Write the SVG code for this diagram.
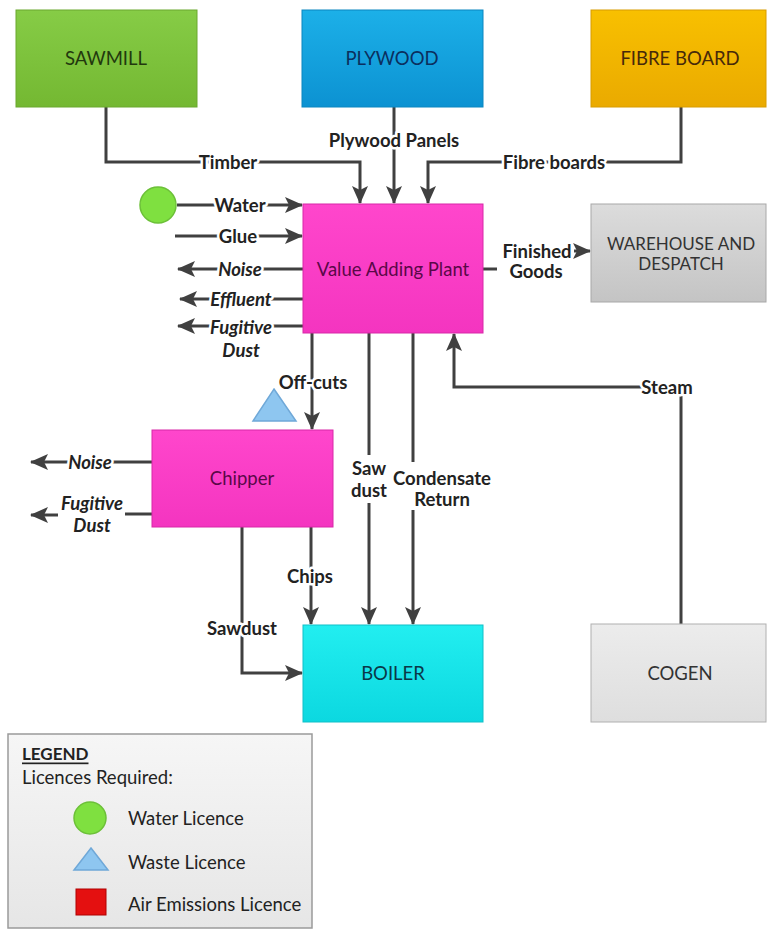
<svg xmlns="http://www.w3.org/2000/svg" width="767" height="930" viewBox="0 0 767 930">
<style>
text{font-family:Lato,"Open Sans","Liberation Sans",sans-serif;}
.node{font-size:18.5px;text-anchor:middle;dominant-baseline:central;}
.lbl{font-size:18.5px;font-weight:bold;fill:#222;text-anchor:middle;dominant-baseline:central;stroke:#fff;stroke-width:5px;paint-order:stroke;stroke-linejoin:round;}
.it{font-style:italic;}
.conn{fill:none;stroke:#404040;stroke-width:3;}
.arr{marker-end:url(#ah);}
.leg{font-size:18.5px;fill:#222;dominant-baseline:central;}
</style>
<defs>
<marker id="ah" markerUnits="userSpaceOnUse" markerWidth="18" markerHeight="18" viewBox="0 0 18 18" refX="17" refY="9" orient="auto">
<path d="M0,1 L18,9 L0,17 L4,9 Z" fill="#404040"/>
</marker>
<linearGradient id="gGreen" x1="0" y1="0" x2="0" y2="1"><stop offset="0" stop-color="#86cc46"/><stop offset="1" stop-color="#74b832"/></linearGradient>
<linearGradient id="gBlue" x1="0" y1="0" x2="0" y2="1"><stop offset="0" stop-color="#1cb0e8"/><stop offset="1" stop-color="#0c92d2"/></linearGradient>
<linearGradient id="gGold" x1="0" y1="0" x2="0" y2="1"><stop offset="0" stop-color="#f8c000"/><stop offset="1" stop-color="#eaaa00"/></linearGradient>
<linearGradient id="gPink" x1="0" y1="0" x2="0" y2="1"><stop offset="0" stop-color="#ff46cc"/><stop offset="1" stop-color="#f435c0"/></linearGradient>
<linearGradient id="gCyan" x1="0" y1="0" x2="0" y2="1"><stop offset="0" stop-color="#22eef0"/><stop offset="1" stop-color="#0cd8e0"/></linearGradient>
<linearGradient id="gGray" x1="0" y1="0" x2="0" y2="1"><stop offset="0" stop-color="#dcdcdc"/><stop offset="1" stop-color="#c4c4c4"/></linearGradient>
<linearGradient id="gLight" x1="0" y1="0" x2="0" y2="1"><stop offset="0" stop-color="#ececec"/><stop offset="1" stop-color="#dedede"/></linearGradient>
<linearGradient id="gLeg" x1="0" y1="0" x2="0" y2="1"><stop offset="0" stop-color="#f6f6f6"/><stop offset="1" stop-color="#e6e6e6"/></linearGradient>
</defs>
<rect width="767" height="930" fill="#fff"/>

<g id="connectors">
<polyline class="conn arr" points="106,107 106,162 360,162 360,203"/>
<polyline class="conn arr" points="394,107 394,203"/>
<polyline class="conn arr" points="681,107 681,162 428,162 428,203"/>
<line class="conn arr" x1="177" y1="205" x2="302" y2="205"/>
<line class="conn arr" x1="175" y1="236" x2="302" y2="236"/>
<line class="conn arr" x1="303" y1="269" x2="178" y2="269"/>
<line class="conn arr" x1="303" y1="299" x2="180" y2="299"/>
<line class="conn arr" x1="303" y1="326" x2="178" y2="326"/>
<line class="conn" x1="483" y1="269" x2="497" y2="269"/>
<line class="conn arr" x1="574" y1="251" x2="590" y2="251"/>
<polyline class="conn arr" points="681,624 681,387 454,387 454,334"/>
<line class="conn arr" x1="312" y1="333" x2="312" y2="429"/>
<line class="conn" x1="369" y1="333" x2="369" y2="455"/>
<line class="conn arr" x1="369" y1="503" x2="369" y2="624"/>
<line class="conn" x1="413" y1="333" x2="413" y2="462"/>
<line class="conn arr" x1="413" y1="510" x2="413" y2="624"/>
<line class="conn arr" x1="152" y1="462" x2="31" y2="462"/>
<line class="conn" x1="152" y1="514" x2="125" y2="514"/>
<line class="conn arr" x1="58" y1="515" x2="31" y2="515"/>
<line class="conn arr" x1="311" y1="527" x2="311" y2="624"/>
<polyline class="conn arr" points="242,527 242,673 302,673"/>
</g>

<g id="labels">
<text class="lbl" x="228" y="162">Timber</text>
<text class="lbl" x="394" y="140">Plywood Panels</text>
<text class="lbl" x="554" y="162">Fibre boards</text>
<text class="lbl" x="240" y="205">Water</text>
<text class="lbl" x="238" y="236">Glue</text>
<text class="lbl it" x="240" y="269">Noise</text>
<text class="lbl it" x="241" y="299">Effluent</text>
<text class="lbl it" x="241" y="327">Fugitive</text>
<text class="lbl it" x="241" y="350">Dust</text>
<text class="lbl" x="537" y="251">Finished</text>
<text class="lbl" x="536" y="271">Goods</text>
<text class="lbl" x="667" y="387">Steam</text>
<text class="lbl" x="313" y="382">Off-cuts</text>
<text class="lbl" x="369" y="468">Saw</text>
<text class="lbl" x="369" y="490">dust</text>
<text class="lbl" x="442" y="478">Condensate</text>
<text class="lbl" x="442" y="499">Return</text>
<text class="lbl it" x="90" y="462">Noise</text>
<text class="lbl it" x="92" y="503">Fugitive</text>
<text class="lbl it" x="92" y="525">Dust</text>
<text class="lbl" x="310" y="576">Chips</text>
<text class="lbl" x="242" y="628">Sawdust</text>
</g>

<g id="sawmill">
<rect x="16" y="10" width="181" height="97" fill="url(#gGreen)" stroke="#6aa82e" stroke-width="1"/>
<text class="node" x="106" y="58" fill="#22380e">SAWMILL</text>
</g>
<g id="plywood">
<rect x="302" y="10" width="181" height="97" fill="url(#gBlue)" stroke="#0a86c0" stroke-width="1"/>
<text class="node" x="392" y="58" fill="#0b2f5e">PLYWOOD</text>
</g>
<g id="fibreboard">
<rect x="591" y="10" width="175" height="97" fill="url(#gGold)" stroke="#d89c00" stroke-width="1"/>
<text class="node" x="680" y="58" fill="#47290a">FIBRE BOARD</text>
</g>
<g id="water-licence">
<circle cx="158" cy="205" r="18" fill="#7fe040" stroke="#6cc038" stroke-width="1.5"/>
</g>
<g id="value-adding-plant">
<rect x="303" y="204" width="180" height="129" fill="url(#gPink)" stroke="#d828a8" stroke-width="1"/>
<text class="node" x="393" y="269" fill="#5a0848">Value Adding Plant</text>
</g>
<g id="warehouse">
<rect x="591" y="204" width="175" height="98" fill="url(#gGray)" stroke="#a8a8a8" stroke-width="1"/>
<text class="node" x="681" y="243" fill="#333" style="font-size:17px">WAREHOUSE AND</text>
<text class="node" x="681" y="263" fill="#333" style="font-size:17px">DESPATCH</text>
</g>
<g id="waste-licence">
<polygon points="274,389 296,421 253,421" fill="#8ec6f0" stroke="#6fa8d8" stroke-width="1.5"/>
</g>
<g id="chipper">
<rect x="152" y="430" width="181" height="97" fill="url(#gPink)" stroke="#d828a8" stroke-width="1"/>
<text class="node" x="242" y="478" fill="#5a0848">Chipper</text>
</g>
<g id="boiler">
<rect x="303" y="625" width="180" height="97" fill="url(#gCyan)" stroke="#10c0c8" stroke-width="1"/>
<text class="node" x="393" y="673" fill="#0a3848">BOILER</text>
</g>
<g id="cogen">
<rect x="591" y="624" width="175" height="98" fill="url(#gLight)" stroke="#b0b0b0" stroke-width="1"/>
<text class="node" x="680" y="673" fill="#333">COGEN</text>
</g>

<g id="legend">
<rect x="8" y="734" width="304" height="194" fill="url(#gLeg)" stroke="#9a9a9a" stroke-width="1.5"/>
<text class="leg" x="22" y="753" font-weight="bold" style="font-size:17px" text-decoration="underline">LEGEND</text>
<text class="leg" x="22" y="777">Licences Required:</text>
<circle cx="90" cy="818" r="16" fill="#7fe040" stroke="#6cc038" stroke-width="1.5"/>
<text class="leg" x="128" y="818">Water Licence</text>
<polygon points="91,848 108,870 74,870" fill="#8ec6f0" stroke="#6fa8d8" stroke-width="1.5"/>
<text class="leg" x="128" y="862">Waste Licence</text>
<rect x="76" y="889" width="30" height="26" fill="#e41010" stroke="#b00000" stroke-width="1"/>
<text class="leg" x="128" y="904">Air Emissions Licence</text>
</g>
</svg>
